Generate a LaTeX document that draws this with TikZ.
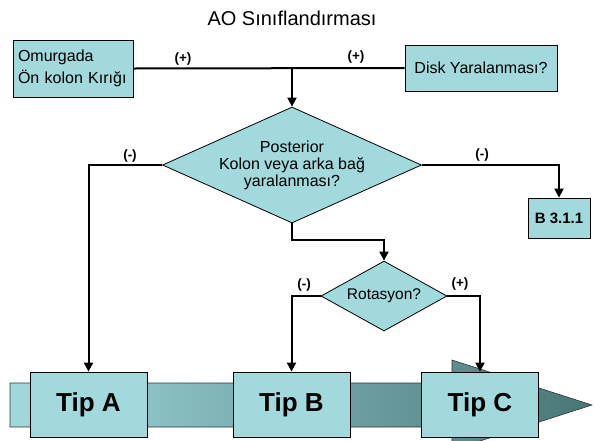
\documentclass[tikz,border=0pt]{standalone}
\usepackage{fontspec}
\setmainfont{Liberation Sans}
\usetikzlibrary{positioning,arrows.meta,shapes.geometric}
\definecolor{aoCyan}{RGB}{161,217,221}
\definecolor{aoMid}{RGB}{128,196,198}
\definecolor{aoTeal}{RGB}{72,118,118}
\tikzset{
    base/.style={font=\fontsize{16}{17}\selectfont, align=center, text=black},
    box/.style={base, rectangle, draw=black, fill=aoCyan, line width=0.8pt},
    query/.style={base, diamond, draw=black, fill=aoCyan, line width=0.8pt,
                  inner sep=0pt, aspect=2.2},
    tipbox/.style={box, font=\fontsize{26}{30}\selectfont\bfseries,
                   minimum width=117pt, minimum height=65pt},
    link/.style={line width=2pt, color=black},
    flow/.style={link, -{Triangle[length=9pt,width=9pt]}},
    sign/.style={font=\fontsize{13.5}{15}\selectfont\bfseries, inner sep=1pt}
}

\begin{document}
\begin{tikzpicture}[x=1pt,y=-1pt]
  \clip (0,0) rectangle (595,440);

  % Band with arrow head behind the types
  \path[left color=aoCyan, middle color=aoMid, right color=aoTeal,
        draw=black!80, line width=0.6pt]
    (10,383) -- (452,383) -- (452,360) -- (592,405) -- (452,450)
    -- (452,427) -- (10,427) -- cycle;

  % Title
  \node[font=\fontsize{20}{24}\selectfont] (title) at (292,18) {AO Sınıflandırması};

  % Questions and boxes
  \node[box, align=left, text width=110pt, inner sep=5pt,
        font=\fontsize{16}{22}\selectfont,
        minimum height=57pt] (spine) at (73,68.5) {Omurgada\\Ön kolon Kırığı};
  \node[box, minimum width=152pt, minimum height=46pt] (disk) at (481,68) {Disk Yaralanması?};
  \node[query, minimum width=259pt, minimum height=116pt] (post) at (292,165)
    {Posterior\\Kolon veya arka bağ\\yaralanması?};
  \node[box, font=\fontsize{15}{17}\selectfont\bfseries,
        minimum width=62pt, minimum height=40pt] (b311) at (559,218) {B 3.1.1};
  \node[query, font=\fontsize{15.5}{17}\selectfont,
        minimum width=126pt, minimum height=70pt] (rot) at (384,296) {Rotasyon?};

  % Types
  \node[tipbox] (tipA) at (88.5,404.5) {Tip A};
  \node[tipbox] (tipB) at (291.5,404.5) {Tip B};
  \node[tipbox] (tipC) at (480,404.5) {Tip C};

  % Connectors
  \draw[link] (spine.east) -- (disk.west);
  \draw[flow] (post.north |- spine.east) -- (post.north);
  \draw[flow] (post.west) -| (tipA.north);
  \draw[flow] (post.east) -| (b311.north);
  \draw[flow] (post.south) -- ++(0,17) -| (rot.north);
  \draw[flow] (rot.west) -| (tipB.north);
  \draw[flow] (rot.east) -| (tipC.north);

  % Signs
  \node[sign] (s1) at (183,59) {(+)};
  \node[sign] (s2) at (356,57) {(+)};
  \node[sign] (s3) at (130,156) {(-)};
  \node[sign] (s4) at (482,155) {(-)};
  \node[sign] (s5) at (304,285) {(-)};
  \node[sign] (s6) at (460,284) {(+)};
\end{tikzpicture}
\end{document}
